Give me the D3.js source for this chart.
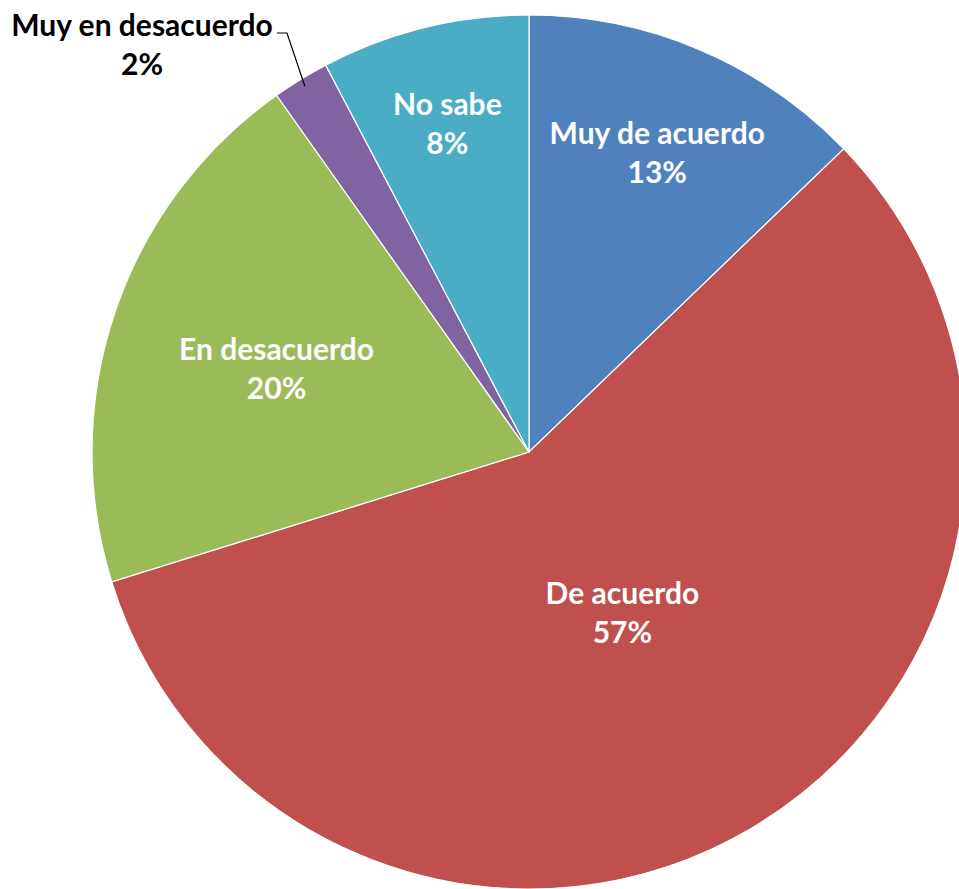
<!DOCTYPE html>
<html>
<head>
<meta charset="utf-8">
<script src="https://cdn.jsdelivr.net/npm/d3@7"></script>
<style>
  body { margin: 0; background: #fff; }
  svg { display: block; }
</style>
</head>
<body>
<svg id="chart" width="959" height="889"></svg>
<script>
// data, clockwise from 12 o'clock
var categories = ["Muy de acuerdo", "De acuerdo", "En desacuerdo", "Muy en desacuerdo", "No sabe"];
var values = [12.8, 57.4, 20.0, 2.1, 7.7];
var colors = ["#4F81BD", "#C0504D", "#9BBB59", "#8064A2", "#4BACC6"];

// where each label sits, as fraction of radius (like excel best fit)
var labelRadius = [0.75, 0.42, 0.61, 0, 0.78];

var svg = d3.select('#chart');
var cx = 529, cy = 452, r = 437;

var data = categories.map(function (c, i) { return { name: c, value: values[i], color: colors[i], lr: labelRadius[i] }; });

var pie = d3.pie().sort(null).value(function (d) { return d.value; });
var arcs = pie(data);
var arc = d3.arc().innerRadius(0).outerRadius(r);

var g = svg.append('g').attr('transform', 'translate(' + cx + ',' + cy + ')');

g.selectAll('path.slice')
	.data(arcs)
	.enter().append('path')
	.attr('class', 'slice')
	.attr('d', arc)
	.attr('fill', function (d) { return d.data.color; })
	.attr('stroke', '#fff')
	.attr('stroke-width', 1.2);

var fmt = function (v) { return Math.round(v) + '%'; };

arcs.forEach(function (d) {
	if (d.data.lr === 0) return;
	var la = d3.arc().innerRadius(d.data.lr * r).outerRadius(d.data.lr * r);
	var p = la.centroid(d);
	var t = g.append('text')
		.attr('text-anchor', 'middle')
		.attr('font-family', 'Lato, "Open Sans", sans-serif')
		.attr('font-weight', 'bold')
		.attr('font-size', 30)
		.attr('fill', '#fff');
	t.append('tspan').attr('x', p[0]).attr('y', p[1] - 6).text(d.data.name);
	t.append('tspan').attr('x', p[0]).attr('y', p[1] + 33).text(fmt(d.data.value));
});

// outside label for the small slice, with leader line
var small = arcs[3];
var mid = (small.startAngle + small.endAngle) / 2;
var edge = [Math.sin(mid) * (r - 8), -Math.cos(mid) * (r - 8)];
var lx = 142 - cx, ly = 25 - cy;
g.append('polyline')
	.attr('points', [[edge[0], edge[1]], [287 - cx, 33 - cy], [277 - cx, 33 - cy]].map(function (p) { return p.join(','); }).join(' '))
	.attr('fill', 'none')
	.attr('stroke', '#000')
	.attr('stroke-width', 1.2);
var t2 = g.append('text')
	.attr('text-anchor', 'middle')
	.attr('font-family', 'Lato, "Open Sans", sans-serif')
	.attr('font-weight', 'bold')
	.attr('font-size', 30)
	.attr('fill', '#000');
t2.append('tspan').attr('x', lx).attr('y', ly + 11).text(small.data.name);
t2.append('tspan').attr('x', lx).attr('y', ly + 50).text(fmt(small.data.value));
</script>
</body>
</html>
